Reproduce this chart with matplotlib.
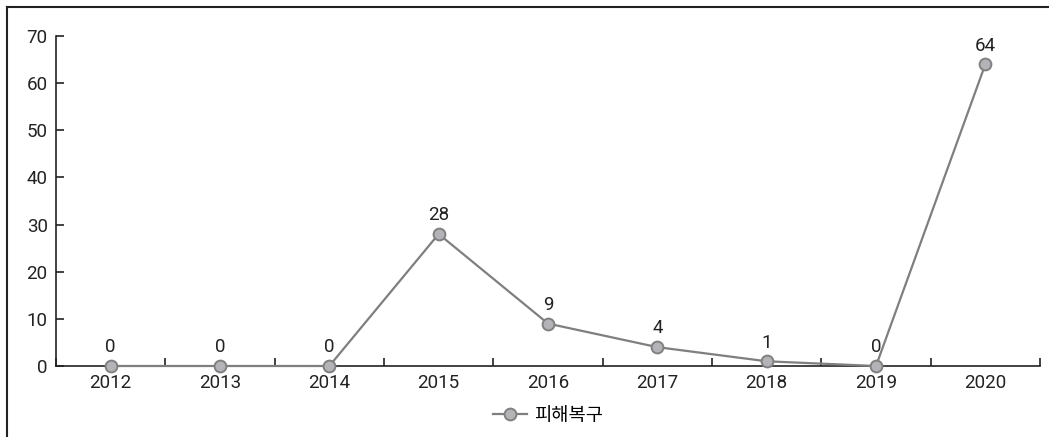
import matplotlib.pyplot as plt
from matplotlib.lines import Line2D

plt.rcParams["font.family"] = ["Roboto", "Noto Sans CJK KR", "DejaVu Sans"]

years = ["2012", "2013", "2014", "2015", "2016", "2017", "2018", "2019", "2020"]
recovery = [0, 0, 0, 28, 9, 4, 1, 0, 64]
series_name = "피해복구"

W, H = 1049, 437
fig = plt.figure(figsize=(W / 100, H / 100), dpi=100)
ax = fig.add_axes([56 / W, 1 - 366 / H, (1040 - 56) / W, (366 - 36) / H])

x = list(range(len(years)))
ax.plot(x, recovery, color="#7f7f7f", linewidth=1.6, marker="o", markersize=8.5,
        markerfacecolor="#b4b4b8", markeredgecolor="#808080", markeredgewidth=1.4,
        label=series_name, clip_on=False, zorder=3)

for xi, v in zip(x, recovery):
    ax.annotate(f"{v}", (xi, v), xytext=(0, 7), textcoords="offset points",
                ha="center", va="bottom", fontsize=13.5, color="#222222")

ax.set_xlim(-0.5, len(years) - 0.5)
ax.set_ylim(0, 70)
ax.set_yticks(range(0, 71, 10))
# major ticks mark category edges, minor ticks carry the year labels
ax.set_xticks([i - 0.5 for i in range(len(years) + 1)])
ax.set_xticklabels([])
ax.set_xticks(x, minor=True)
ax.set_xticklabels(years, minor=True)
ax.tick_params(axis="x", which="major", direction="in", length=6, width=1.2, color="#222222")
ax.tick_params(axis="x", which="minor", length=0, labelsize=13.5, pad=6, labelcolor="#222222")
ax.tick_params(axis="y", direction="in", length=6, width=1.2, labelsize=13.5, pad=6,
               color="#222222", labelcolor="#222222")

for side in ("top", "right"):
    ax.spines[side].set_visible(False)
for side in ("left", "bottom"):
    ax.spines[side].set_linewidth(1.2)
    ax.spines[side].set_color("#222222")

ax.legend(loc="center", bbox_to_anchor=(0.5, -0.15), frameon=False, fontsize=13.5,
          handlelength=1.8, handletextpad=0.4)

# outer frame (left and top edges)
fig.add_artist(Line2D([7 / W, 7 / W], [0, 1 - 7 / H], color="#222222", linewidth=1.5,
                      transform=fig.transFigure))
fig.add_artist(Line2D([7 / W, 1], [1 - 7 / H, 1 - 7 / H], color="#222222", linewidth=1.5,
                      transform=fig.transFigure))

fig.savefig("out.png", dpi=100)
